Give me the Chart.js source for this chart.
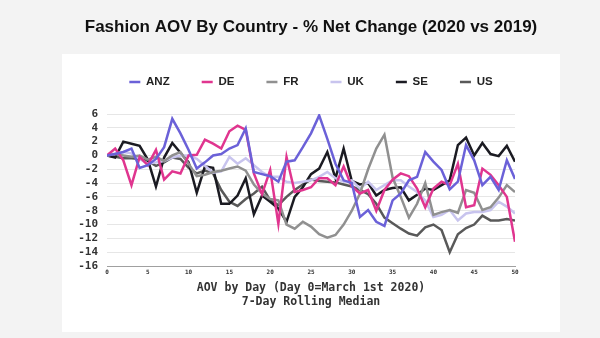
<!DOCTYPE html>
<html>
<head>
<meta charset="utf-8">
<script src="https://cdn.jsdelivr.net/npm/chart.js@4.4.1/dist/chart.umd.min.js"></script>
<style>
  html, body { margin: 0; padding: 0; background: #f3f3f3; }
  #wrap { width: 600px; height: 338px; }
</style>
</head>
<body>
<div id="wrap"><canvas id="aovChart" width="600" height="338"></canvas></div>
<script>
// AOV % net change by day, 7-day rolling median
const days = [0, 1, 2, 3, 4, 5, 6, 7, 8, 9, 10, 11, 12, 13, 14, 15, 16, 17, 18, 19, 20,
  21, 22, 23, 24, 25, 26, 27, 28, 29, 30, 31, 32, 33, 34, 35, 36, 37, 38, 39, 40,
  41, 42, 43, 44, 45, 46, 47, 48, 49, 50];

const anz = [0, 0.2, 0.5, 1, -1.8, -1.4, -0.5, 1.2, 5.3, 3.2, 0.8,
  -1.9, -1, 0, 0.2, 1, 1.5, 3.9, -2.4, -2.7, -3,
  -3.8, -0.9, -0.7, 1.2, 3.2, 5.8, 2.4, -1.2, -3.6, -4,
  -8.9, -7.9, -9.6, -10.2, -6.5, -5.5, -3.6, -3.1, 0.5, -0.9,
  -2.1, -4.9, -3.8, 1.5, -0.7, -4.3, -3.1, -5, -0.7, -3.4];

const de = [0, 1, -0.7, -4.3, -0.2, -1.4, 0.8, -3.5, -2.3, -2.6, 0,
  0.1, 2.3, 1.7, 1, 3.5, 4.3, 3.7, -2.6, -5.6, -2.1,
  -9.9, -0.2, -5.3, -5, -4.6, -3.3, -3.3, -4.3, -1.6, -4.5,
  -5.5, -5, -8, -5, -3.5, -2.6, -3, -4.8, -7.5, -4.8,
  -3.8, -4.3, -1.2, -7.5, -7.2, -1.9, -2.8, -4.3, -6, -12.5];

const fr = [0, 0.2, 0, -0.2, 0, -0.6, -0.2, -0.8, 0, 0.5, -1.2,
  -3, -2.8, -2.4, -2.2, -1.9, -1.6, -2.2, -4.2, -5.5, -6.3,
  -6.5, -10, -10.6, -9.6, -10.3, -11.4, -11.9, -11.5, -10, -8,
  -5.5, -2, 1, 3, -3.2, -6, -9, -7, -4, -8.6,
  -8.2, -7.9, -8.3, -5, -5.4, -7.9, -7.5, -6.1, -4.3, -5.3];

const uk = [0, 0.3, 0.5, 0.3, -0.5, -1.2, -1, -0.8, -0.3, 0, 0,
  -0.5, -1.5, -2.5, -2.3, -0.2, -1.2, -0.4, -1.4, -2.4, -3.1,
  -3.1, -3.8, -4, -3.8, -3.6, -3.1, -2.4, -3.3, -3.8, -3.6,
  -4.8, -3.8, -5, -4.3, -3.6, -3.6, -4.5, -5.3, -6.5, -8.9,
  -8.6, -7.9, -9.4, -8.4, -8.2, -8.2, -7.9, -6.7, -7.4, -8.4];

const se = [0, -0.3, 2, 1.7, 1.4, -0.6, -4.5, -0.3, 1.8, 0.4, -1,
  -5.4, -1.6, -1.8, -7, -7, -5.8, -3.3, -8.5, -5.8, -6.7,
  -7.7, -9.6, -6, -4.6, -2.7, -1.9, 0.5, -3.3, 1, -3.7,
  -4.2, -4, -5.8, -5, -4.7, -4.6, -6.5, -5.7, -4.8, -5,
  -4.3, -3.6, 1.5, 2.6, 0, 1.8, 0.2, -0.1, 1.4, -0.9];

const us = [0, -0.2, -0.4, -0.4, -0.5, -0.8, -1.5, -1, -0.3, -0.5, -1.8,
  -2.6, -2.2, -2.6, -5, -6.7, -7.3, -6.3, -5.5, -4.5, -6.5,
  -7.2, -6, -5, -4.2, -3.5, -3.7, -3.8, -3.9, -4.2, -4.5,
  -5, -5.6, -7, -9, -9.8, -10.6, -11.3, -11.6, -10.4, -10,
  -10.8, -14, -11.4, -10.5, -10, -8.7, -9.4, -9.4, -9.2, -9.4];

const seriesNames = ['ANZ', 'DE', 'FR', 'UK', 'SE', 'US'];
const seriesData = [anz, de, fr, uk, se, us];
const seriesColors = ['#6b61d8', '#e0358f', '#909090', '#c8c4ee', '#1b1b22', '#595959'];

const mono = "'DejaVu Sans Mono', 'Liberation Mono', monospace";
const sans = "'Liberation Sans', Arial, sans-serif";

// grey page with a white card behind the chart
const panelBg = {
  id: 'panelBg',
  beforeDraw(chart) {
    const c = chart.ctx;
    c.save();
    c.fillStyle = '#f3f3f3';
    c.fillRect(0, 0, chart.width, chart.height);
    c.fillStyle = '#ffffff';
    c.fillRect(62, 54, 498, 278);
    c.restore();
  }
};

const ctx = document.getElementById('aovChart').getContext('2d');
new Chart(ctx, {
  type: 'line',
  data: {
    labels: days,
    datasets: seriesNames.map((name, i) => ({
      label: name,
      data: seriesData[i],
      borderColor: seriesColors[i],
      backgroundColor: seriesColors[i],
      borderWidth: 2.5,
      pointRadius: 0,
      tension: 0
    }))
  },
  options: {
    responsive: false,
    animation: false,
    layout: { padding: { left: 22, right: 0, top: 0, bottom: 0 } },
    plugins: {
      title: {
        display: true,
        text: 'Fashion AOV By Country - % Net Change (2020 vs 2019)',
        color: '#111111',
        font: { family: sans, size: 17, weight: 'bold' },
        padding: { top: 17, bottom: 6.85 }
      },
      subtitle: {
        // empty spacer between legend and plot
        display: true,
        text: '',
        weight: 500,
        font: { size: 10 },
        padding: { top: 0, bottom: 4.25 }
      },
      legend: {
        display: true,
        labels: {
          usePointStyle: true,
          pointStyle: 'line',
          pointStyleWidth: 11,
          padding: 32,
          color: '#222222',
          font: { family: sans, size: 11.5, weight: 'bold' }
        }
      },
      tooltip: { enabled: false }
    },
    scales: {
      x: {
        type: 'linear',
        min: 0,
        max: 50,
        afterFit: (s) => { s.height = 72; },
        grid: { display: false, drawTicks: false },
        border: { display: true, color: '#a0a0a0', width: 1 },
        ticks: {
          stepSize: 5,
          padding: 3,
          color: '#333333',
          font: { family: mono, size: 6, weight: 'bold' }
        },
        title: {
          display: true,
          text: ['AOV by Day (Day 0=March 1st 2020)', '7-Day Rolling Median'],
          color: '#333333',
          font: { family: mono, size: 11.5, weight: 'bold', lineHeight: 1.2 },
          padding: { top: 0, bottom: 29 }
        }
      },
      y: {
        min: -16,
        max: 6,
        afterFit: (s) => { s.width = 85; },
        grid: { color: '#e6e6e6', drawTicks: false },
        border: { display: false },
        ticks: {
          stepSize: 2,
          autoSkip: false,
          padding: 9,
          color: '#333333',
          font: { family: mono, size: 11, weight: 'bold' }
        }
      },
      // blank right-hand axis, only reserves the card's right margin
      yRight: {
        position: 'right',
        min: -16,
        max: 6,
        afterFit: (s) => { s.width = 85; },
        grid: { display: false, drawTicks: false },
        border: { display: false },
        ticks: { display: false }
      }
    }
  },
  plugins: [panelBg]
});
</script>
</body>
</html>
